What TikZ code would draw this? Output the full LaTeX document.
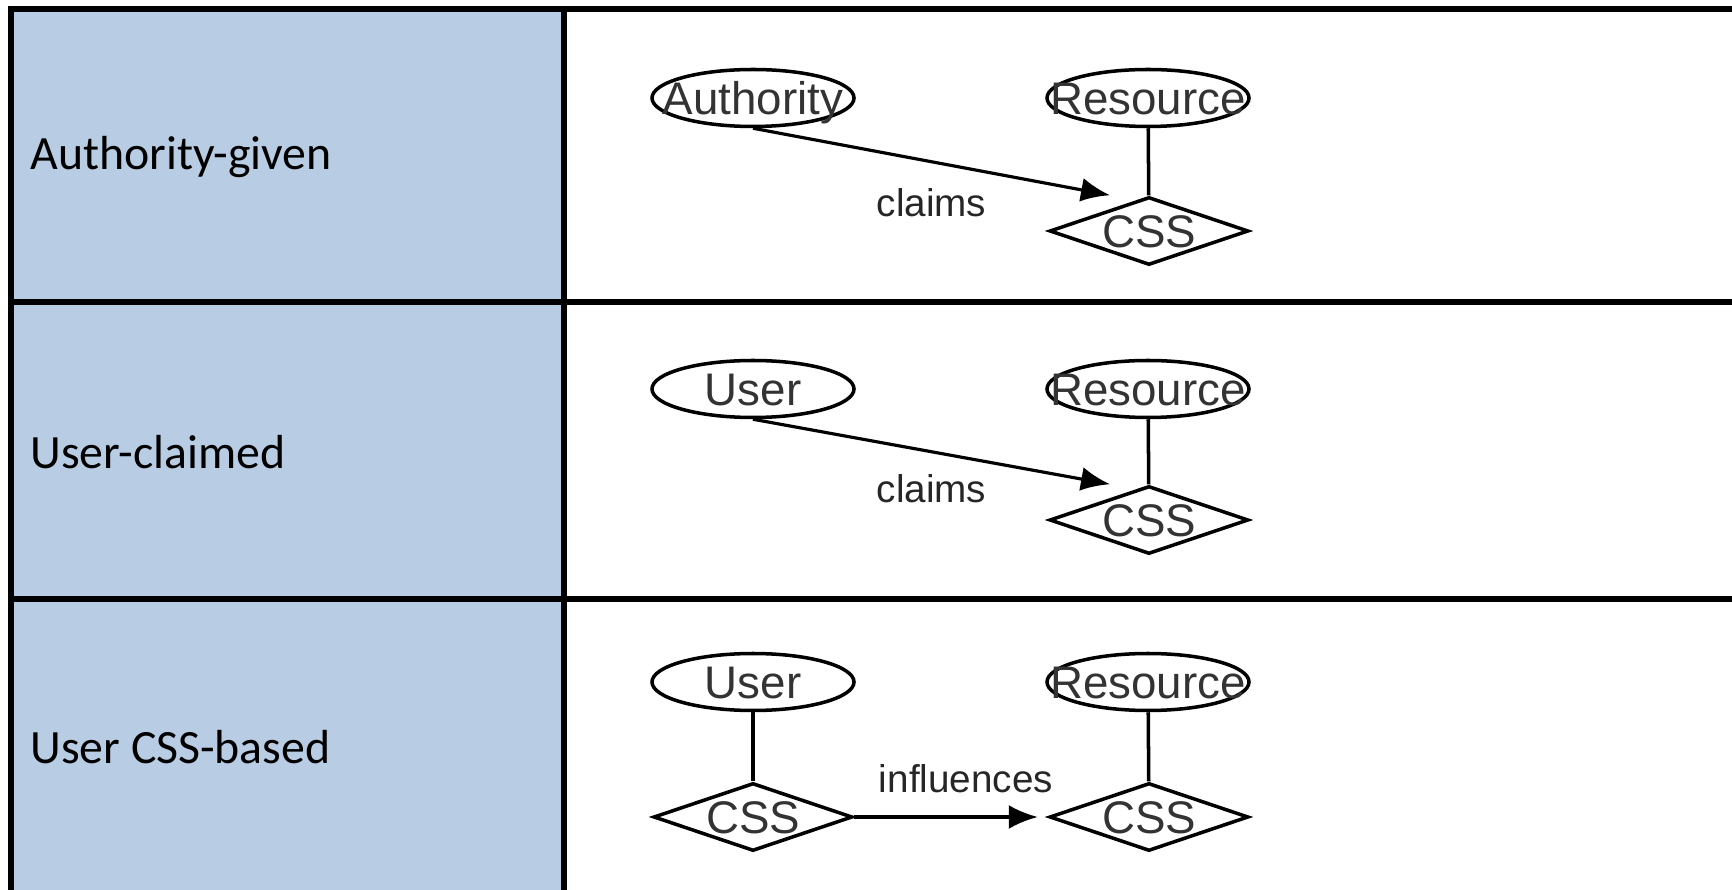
\documentclass[tikz,border=0pt]{standalone}
\usepackage{fontspec}
\setmainfont{Carlito}
\newfontfamily\diagfont{Liberation Sans}
\usepackage{xcolor}
\usetikzlibrary{positioning, arrows.meta, shapes.geometric}
\definecolor{headblue}{HTML}{B8CCE4}

\begin{document}
\begin{tikzpicture}[>={Latex[length=2.9mm,width=2.4mm]},
  entity/.style={draw, ellipse, line width=1pt, minimum width=2.02cm, minimum height=0.57cm,
    inner xsep=-0.4cm, inner ysep=0pt, text height=0.33cm, text depth=0pt,
    text=black!80, font=\diagfont\fontsize{13}{15}\selectfont},
  rel/.style={draw, diamond, aspect=3, line width=1pt, minimum width=1.99cm, minimum height=0.68cm,
    inner sep=0pt, text height=0.33cm, text depth=0pt,
    text=black!80, font=\diagfont\fontsize{13}{15}\selectfont},
  lbl/.style={text=black!85, font=\diagfont\fontsize{11}{13}\selectfont},
  rowname/.style={anchor=west, font=\fontsize{13.6}{16}\selectfont},
  grid/.style={line width=1.6pt}]
  \useasboundingbox (0,0) rectangle (17.32,-8.90);
  \clip (0,0) rectangle (17.32,-8.90);

  % Table
  \fill[headblue] (0.11,-0.09) rectangle (5.64,-9.2);
  \draw[grid] (0.11,-9.2) -- (0.11,-0.09) -- (17.6,-0.09);
  \draw[grid] (0.11,-3.02) -- (17.6,-3.02);
  \draw[grid] (0.11,-5.99) -- (17.6,-5.99);
  \draw[grid] (5.64,-0.09) -- (5.64,-9.2);

  \node[rowname] (given) at (0.18,-1.57) {Authority-given};
  \node[rowname] (claimed) at (0.18,-4.52) {User-claimed};
  \node[rowname] (based) at (0.18,-7.47) {User CSS-based};

  % Authority-given
  \node[entity] (auth1) at (7.53,-0.98) {Authority};
  \node[entity] (res1) at (11.48,-0.98) {Resource};
  \node[rel] (css1) at (11.49,-2.31) {CSS};
  \draw[line width=1pt] (res1) -- (css1);
  \draw[->, line width=0.9pt] (auth1.south) -- node[lbl, midway, below=1.3mm] {claims} ([xshift=-0.39cm]css1.north);

  % User-claimed
  \node[entity] (user2) at (7.53,-3.89) {User};
  \node[entity] (res2) at (11.48,-3.89) {Resource};
  \node[rel] (css2) at (11.49,-5.20) {CSS};
  \draw[line width=1pt] (res2) -- (css2);
  \draw[->, line width=0.9pt] (user2.south) -- node[lbl, midway, below=0.9mm] {claims} ([xshift=-0.39cm]css2.north);

  % User CSS-based
  \node[entity] (user3) at (7.53,-6.82) {User};
  \node[entity] (res3) at (11.48,-6.82) {Resource};
  \node[rel] (cssu3) at (7.53,-8.17) {CSS};
  \node[rel] (cssr3) at (11.49,-8.17) {CSS};
  \draw[line width=1pt] (user3) -- (cssu3);
  \draw[line width=1pt] (res3) -- (cssr3);
  \draw[->, line width=0.9pt, shorten >=1mm] (cssu3) -- node[lbl, midway, above=1.1mm, xshift=1.5mm] {influences} (cssr3);
\end{tikzpicture}
\end{document}
